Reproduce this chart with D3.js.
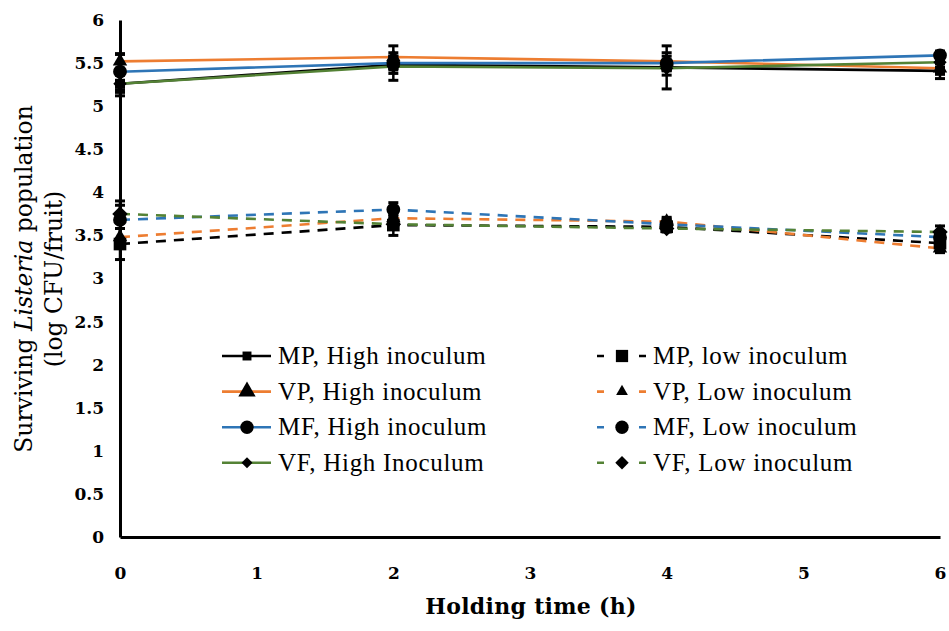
<!DOCTYPE html>
<html>
<head>
<meta charset="utf-8">
<script src="https://cdn.jsdelivr.net/npm/d3@7"></script>
<style>
  body { margin: 0; background: #fff; }
  svg { font-family: "Liberation Serif", serif; }
</style>
</head>
<body>
<svg width="949" height="631"></svg>
<script>
// **** data ****
var hours = [0, 2, 4, 6];
var xTicks = [0, 1, 2, 3, 4, 5, 6];
var yTicks = [0, 0.5, 1, 1.5, 2, 2.5, 3, 3.5, 4, 4.5, 5, 5.5, 6];

var seriesNames = ['MP, High inoculum', 'VP, High inoculum', 'MF, High inoculum', 'VF, High Inoculum',
                   'MP, low inoculum', 'VP, Low inoculum', 'MF, Low inoculum', 'VF, Low inoculum'];

var mpHigh = [5.26, 5.48, 5.45, 5.41];
var vpHigh = [5.52, 5.57, 5.52, 5.44];
var mfHigh = [5.40, 5.50, 5.50, 5.59];
var vfHigh = [5.26, 5.46, 5.44, 5.51];
var mpLow  = [3.40, 3.62, 3.60, 3.41];
var vpLow  = [3.48, 3.70, 3.66, 3.35];
var mfLow  = [3.68, 3.80, 3.63, 3.48];
var vfLow  = [3.75, 3.63, 3.58, 3.54];

var mpHighErr = [0.14, 0.10, 0.25, 0.09];
var vpHighErr = [0.08, 0.13, 0.10, 0.05];
var mfHighErr = [0.21, 0.08, 0.08, 0.05];
var vfHighErr = [0.10, 0.16, 0.08, 0.08];
var mpLowErr  = [0.18, 0.12, 0.05, 0.08];
var vpLowErr  = [0.10, 0.08, 0.05, 0.05];
var mfLowErr  = [0.22, 0.08, 0.06, 0.06];
var vfLowErr  = [0.10, 0.06, 0.04, 0.07];

// colours / markers per series
var colors = ['#000000', '#ED7D31', '#2E75B6', '#548235', '#000000', '#ED7D31', '#2E75B6', '#548235'];
var symbols = ['square', 'triangle', 'circle', 'diamond', 'square', 'triangle', 'circle', 'diamond'];
var symSizes = [100, 90, 150, 90, 160, 90, 150, 120];
var legendSizes = [80, 130, 140, 60, 150, 60, 140, 90];

var values = [mpHigh, vpHigh, mfHigh, vfHigh, mpLow, vpLow, mfLow, vfLow];
var errors = [mpHighErr, vpHighErr, mfHighErr, vfHighErr, mpLowErr, vpLowErr, mfLowErr, vfLowErr];

var series = seriesNames.map(function(name, i) {
    return {
        name: name,
        color: colors[i],
        symbol: symbols[i],
        size: symSizes[i],
        lsize: legendSizes[i],
        dashed: i >= 4,
        points: hours.map(function(h, j) { return {t: h, v: values[i][j], e: errors[i][j]}; })
    };
});

// diamond = square turned 45 degrees
function symbolPath(type, size) {
    var t = {square: d3.symbolSquare, triangle: d3.symbolTriangle,
             circle: d3.symbolCircle, diamond: d3.symbolSquare}[type];
    return d3.symbol().type(t).size(size)();
}
function symbolRot(type) { return type === 'diamond' ? ' rotate(45)' : ''; }

var svg = d3.select('svg');

// **** scales and axes ****
var xScale = d3.scaleLinear().domain([0, 6]).range([120, 940]);
var yScale = d3.scaleLinear().domain([0, 6]).range([537, 20]);

var yAxis = svg.append('g').attr('class', 'y axis')
    .attr('transform', 'translate(120,0)')
    .call(d3.axisLeft(yScale).tickValues(yTicks).tickSize(0).tickPadding(16)
        .tickFormat(function(d) { return String(d); }));
yAxis.select('.domain').attr('stroke', '#000').attr('stroke-width', 3);

var xAxis = svg.append('g').attr('class', 'x axis')
    .attr('transform', 'translate(0,537)')
    .call(d3.axisBottom(xScale).tickValues(xTicks).tickSize(0).tickPadding(30)
        .tickFormat(function(d) { return d; }));
xAxis.select('.domain').attr('stroke', '#000').attr('stroke-width', 3);

[yAxis, xAxis].forEach(function(ax) {
    ax.attr('font-family', '"DejaVu Serif", serif').attr('font-size', 17).attr('font-weight', 'bold');
    ax.selectAll('text').attr('fill', '#000');
});

svg.append('text')
    .attr('x', 531).attr('y', 614)
    .attr('text-anchor', 'middle')
    .attr('font-family', '"DejaVu Serif", serif')
    .attr('font-weight', 'bold')
    .attr('font-size', 22)
    .attr('letter-spacing', 0.3)
    .text('Holding time (h)');

var ylab = svg.append('text')
    .attr('transform', 'translate(32,279) rotate(-90)')
    .attr('text-anchor', 'middle')
    .attr('font-family', '"DejaVu Serif", serif')
    .attr('font-size', 23.5);
ylab.append('tspan').text('Surviving ');
ylab.append('tspan').attr('font-style', 'italic').text('Listeria');
ylab.append('tspan').text(' population');

svg.append('text')
    .attr('transform', 'translate(62,279) rotate(-90)')
    .attr('text-anchor', 'middle')
    .attr('font-family', '"DejaVu Serif", serif')
    .attr('font-size', 23.5)
    .text('(log CFU/fruit)');

// **** lines ****
var line = d3.line()
    .x(function(d) { return xScale(d.t); })
    .y(function(d) { return yScale(d.v); });

svg.selectAll('.series-line')
    .data(series)
    .enter()
    .append('path')
    .attr('class', 'series-line')
    .attr('fill', 'none')
    .attr('stroke', function(d) { return d.color; })
    .attr('stroke-width', 2.6)
    .attr('stroke-dasharray', function(d) { return d.dashed ? '10,8' : null; })
    .attr('d', function(d) { return line(d.points); });

// **** error bars + markers ****
series.forEach(function(s) {
    var g = svg.append('g');
    var eb = g.selectAll('.eb').data(s.points).enter().append('g');
    eb.append('line')
        .attr('x1', function(d) { return xScale(d.t); })
        .attr('x2', function(d) { return xScale(d.t); })
        .attr('y1', function(d) { return yScale(d.v + d.e); })
        .attr('y2', function(d) { return yScale(d.v - d.e); })
        .attr('stroke', '#000').attr('stroke-width', 2.5);
    [1, -1].forEach(function(sign) {
        eb.append('line')
            .attr('x1', function(d) { return xScale(d.t) - 5; })
            .attr('x2', function(d) { return xScale(d.t) + 5; })
            .attr('y1', function(d) { return yScale(d.v + sign * d.e); })
            .attr('y2', function(d) { return yScale(d.v + sign * d.e); })
            .attr('stroke', '#000').attr('stroke-width', 3);
    });
    g.selectAll('.marker').data(s.points).enter().append('path')
        .attr('d', symbolPath(s.symbol, s.size))
        .attr('transform', function(d) {
            return 'translate(' + xScale(d.t) + ',' + yScale(d.v) + ')' + symbolRot(s.symbol);
        })
        .attr('fill', '#000');
});

// **** legend ****
var legend = svg.append('g').attr('class', 'legend');
series.forEach(function(s, i) {
    var col = i < 4 ? 0 : 1;
    var row = i % 4;
    var lx = col === 0 ? 222 : 597;
    var ly = 356 + row * 35.6;
    var item = legend.append('g').attr('transform', 'translate(' + lx + ',' + ly + ')');
    item.append('line')
        .attr('x1', 0).attr('x2', 49).attr('y1', 0).attr('y2', 0)
        .attr('stroke', s.color).attr('stroke-width', 2.6)
        .attr('stroke-dasharray', s.dashed ? '7,35' : null);
    item.append('path')
        .attr('d', symbolPath(s.symbol, s.lsize))
        .attr('transform', 'translate(25,0)' + symbolRot(s.symbol))
        .attr('fill', '#000');
    item.append('text')
        .attr('x', 56).attr('y', 8)
        .attr('font-size', 25)
        .attr('letter-spacing', 0.7)
        .text(s.name);
});
</script>
</body>
</html>
